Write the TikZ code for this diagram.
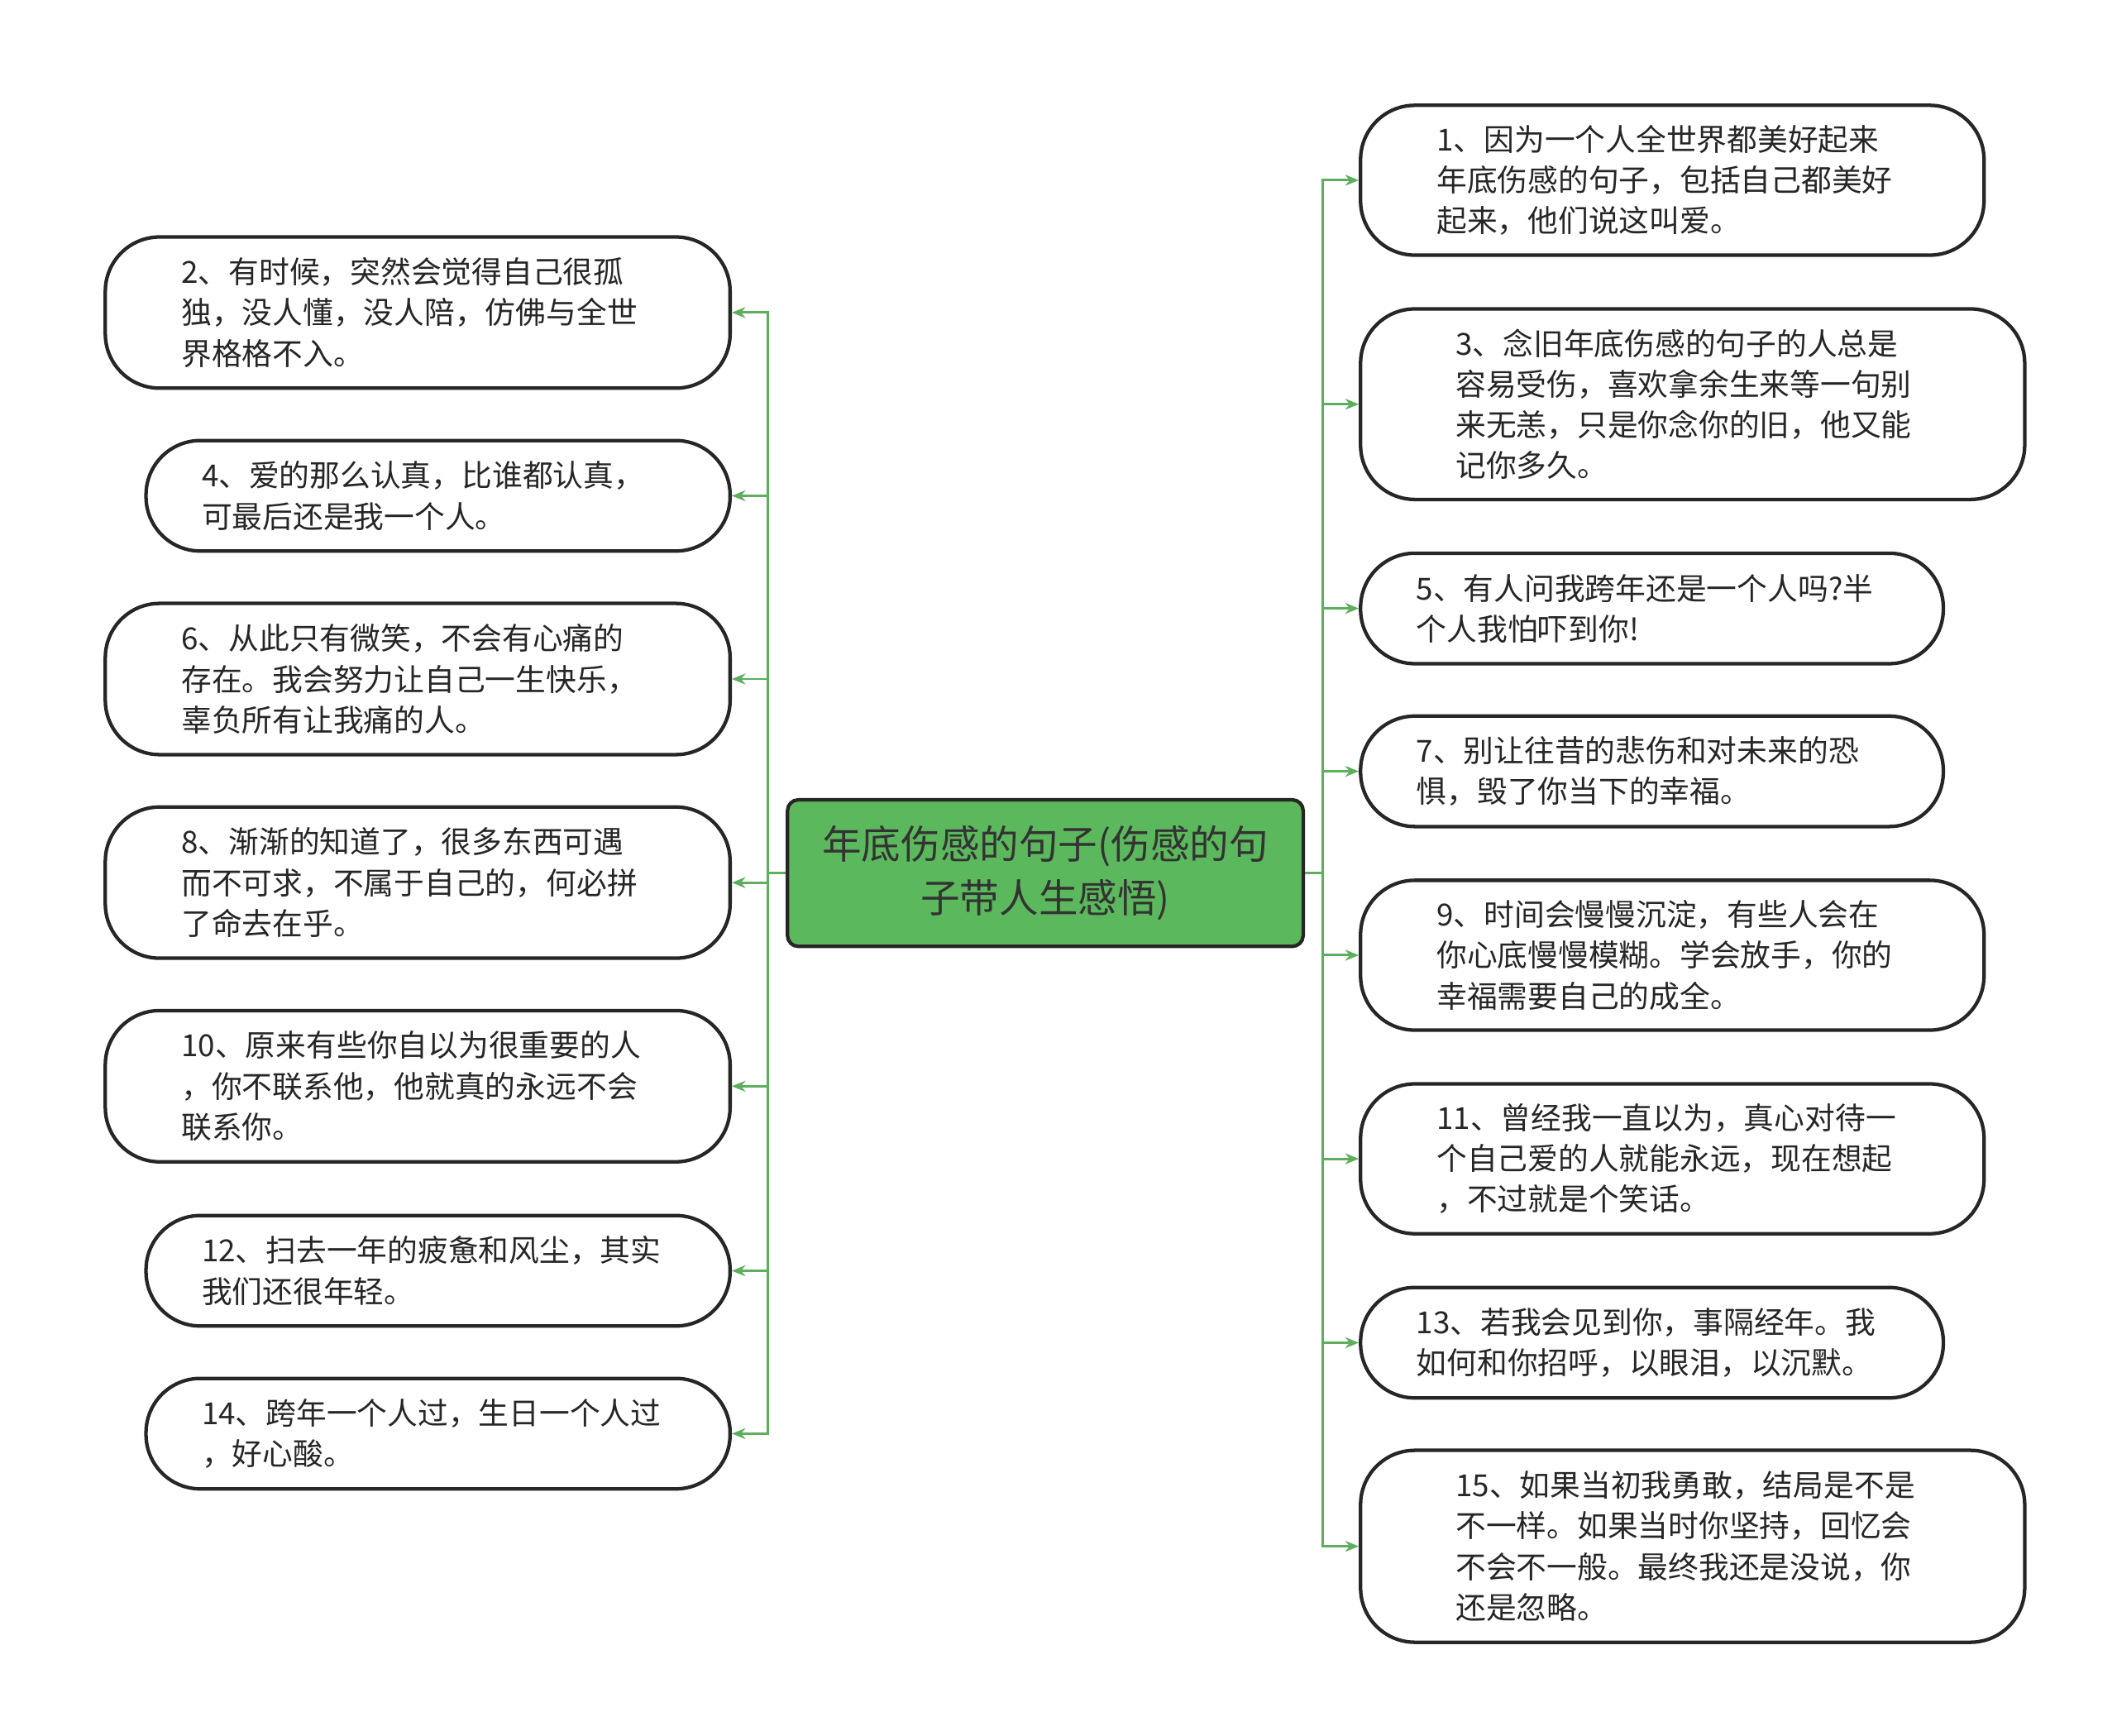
\documentclass[tikz,border=0pt]{standalone}
\usepackage{fontspec}
\setmainfont{Noto Sans CJK SC}
\usetikzlibrary{arrows.meta}
\definecolor{lg}{HTML}{5DAE5D}
\definecolor{cg}{HTML}{5CB85C}
\tikzset{
 bubble/.style={draw=black!85,line width=1.3pt,rounded corners=20pt,anchor=north west,inner sep=0pt},
 btext/.style={anchor=west,align=left,inner sep=0pt,font=\fontsize{11.2pt}{15pt}\selectfont,text=black!85},
 conn/.style={draw=lg,line width=0.9pt},
 arr/.style={conn,-{Stealth[length=5pt,width=4pt]}}
}
\newcommand{\bub}[7]{%
 \node[bubble,minimum width=#4*0.5pt-1.3pt,minimum height=#5*0.5pt-1.3pt] (#1) at (#2+1.3,#3+1.3) {};
 \node[btext] (#1t) at ([xshift=#6*0.5pt]#1.west) {#7};}
\begin{document}
\begin{tikzpicture}[x=0.5pt,y=-0.5pt]
\useasboundingbox[fill=white] (0,0) rectangle (1560,1279);
\node[draw=black!85,line width=1.3pt,fill=cg,rounded corners=4pt,anchor=north west,minimum width=190pt,minimum height=54pt,inner sep=0pt] (c) at (579,588) {};
\node[align=center,font=\fontsize{14.5pt}{20pt}\selectfont,text=black!80] (ct) at (c.center) {年底伤感的句子(伤感的句\\子带人生感悟)};
\bub{n2}{75}{172}{463}{114}{57}{2、有时候，突然会觉得自己很孤\\独，没人懂，没人陪，仿佛与全世\\界格格不入。}
\bub{n4}{105}{322}{433}{84}{42}{4、爱的那么认真，比谁都认真，\\可最后还是我一个人。}
\bub{n6}{75}{442}{463}{114}{57}{6、从此只有微笑，不会有心痛的\\存在。我会努力让自己一生快乐，\\辜负所有让我痛的人。}
\bub{n8}{75}{592}{463}{114}{57}{8、渐渐的知道了，很多东西可遇\\而不可求，不属于自己的，何必拼\\了命去在乎。}
\bub{n10}{75}{742}{463}{114}{57}{10、原来有些你自以为很重要的人\\，你不联系他，他就真的永远不会\\联系你。}
\bub{n12}{105}{893}{433}{84}{42}{12、扫去一年的疲惫和风尘，其实\\我们还很年轻。}
\bub{n14}{105}{1013}{433}{84}{42}{14、跨年一个人过，生日一个人过\\，好心酸。}
\bub{n1}{1000}{75}{462}{113}{57}{1、因为一个人全世界都美好起来\\年底伤感的句子，包括自己都美好\\起来，他们说这叫爱。}
\bub{n3}{1000}{225}{492}{143}{71}{3、念旧年底伤感的句子的人总是\\容易受伤，喜欢拿余生来等一句别\\来无恙，只是你念你的旧，他又能\\记你多久。}
\bub{n5}{1000}{405}{432}{84}{42}{5、有人问我跨年还是一个人吗?半\\个人我怕吓到你!}
\bub{n7}{1000}{525}{432}{84}{42}{7、别让往昔的悲伤和对未来的恐\\惧，毁了你当下的幸福。}
\bub{n9}{1000}{646}{462}{113}{57}{9、时间会慢慢沉淀，有些人会在\\你心底慢慢模糊。学会放手，你的\\幸福需要自己的成全。}
\bub{n11}{1000}{796}{462}{113}{57}{11、曾经我一直以为，真心对待一\\个自己爱的人就能永远，现在想起\\，不过就是个笑话。}
\bub{n13}{1000}{946}{432}{84}{42}{13、若我会见到你，事隔经年。我\\如何和你招呼，以眼泪，以沉默。}
\bub{n15}{1000}{1066}{492}{144}{71}{15、如果当初我勇敢，结局是不是\\不一样。如果当时你坚持，回忆会\\不会不一般。最终我还是没说，你\\还是忽略。}
\draw[conn] (c.west) -- ++(-6.5pt,0) coordinate (lt);
\draw[conn] (c.east) -- ++(6.5pt,0) coordinate (rt);
\foreach \n in {n2,n4,n6,n8,n10,n12,n14} \draw[arr] (lt) |- (\n.east);
\foreach \n in {n1,n3,n5,n7,n9,n11,n13,n15} \draw[arr] (rt) |- (\n.west);
\end{tikzpicture}
\end{document}
